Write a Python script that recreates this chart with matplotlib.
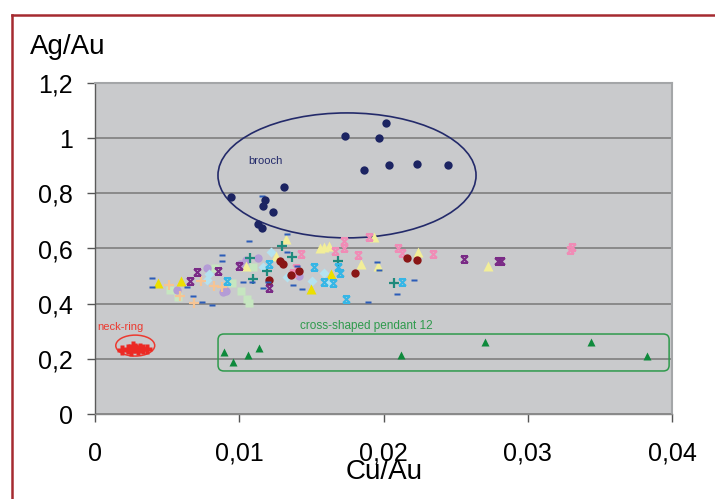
import matplotlib
matplotlib.use("Agg")
import matplotlib.pyplot as plt
from matplotlib.path import Path
from matplotlib.patches import Ellipse, FancyBboxPatch
from matplotlib.ticker import FuncFormatter
from matplotlib.lines import Line2D

plt.rcParams['font.family'] = ['Liberation Sans', 'DejaVu Sans']

# ---- data: (Cu/Au, Ag/Au) per object group ----
brooch_x = [0.02017, 0.01733, 0.01969, 0.01863, 0.02038, 0.02235, 0.02449,
            0.01313, 0.00941, 0.01179, 0.01167, 0.01232, 0.01132, 0.01160]
brooch_y = [1.054, 1.009, 1.001, 0.886, 0.901, 0.906, 0.903,
            0.824, 0.788, 0.777, 0.754, 0.733, 0.688, 0.676]

neck_x = [0.0019, 0.0023, 0.0025, 0.0026, 0.0028, 0.0030, 0.0031, 0.0033, 0.0036]
neck_y = [0.232, 0.236, 0.230, 0.245, 0.240, 0.233, 0.238, 0.235, 0.236]

pend_x = [0.00896, 0.00957, 0.01063, 0.01139, 0.02119, 0.02706, 0.03437, 0.03825]
pend_y = [0.224, 0.190, 0.214, 0.240, 0.213, 0.260, 0.260, 0.210]

dash_x = [0.00393, 0.00393, 0.00878, 0.00878, 0.00636, 0.00677, 0.00744, 0.00809,
          0.01026, 0.01068, 0.01090, 0.01156, 0.01329, 0.01329, 0.01400, 0.01199,
          0.01163, 0.01370, 0.01433, 0.01955, 0.01969, 0.02214, 0.02092, 0.01893]
dash_y = [0.492, 0.462, 0.578, 0.555, 0.462, 0.428, 0.407, 0.395,
          0.480, 0.627, 0.480, 0.790, 0.653, 0.586, 0.538, 0.480,
          0.456, 0.468, 0.453, 0.551, 0.522, 0.486, 0.435, 0.405]

ytri_x = [0.00439, 0.00596, 0.01638, 0.01500]
ytri_y = [0.474, 0.482, 0.507, 0.453]

ptri_x = [0.01047, 0.01324, 0.01560, 0.01590, 0.01622, 0.01255, 0.01844,
          0.01960, 0.01934, 0.02237, 0.02724]
ptri_y = [0.537, 0.633, 0.603, 0.607, 0.609, 0.573, 0.545,
          0.537, 0.643, 0.588, 0.538]

purx_x = [0.00709, 0.00659, 0.00851, 0.00996, 0.01206, 0.02558, 0.02796, 0.02815]
purx_y = [0.514, 0.483, 0.518, 0.536, 0.456, 0.562, 0.554, 0.554]

lav_x = [0.00774, 0.00566, 0.00885, 0.00906, 0.01047, 0.01005, 0.01132, 0.01416]
lav_y = [0.528, 0.451, 0.443, 0.447, 0.558, 0.544, 0.567, 0.500]

mint_x = [0.00832, 0.00520, 0.00575, 0.00948, 0.01012, 0.01052, 0.01070, 0.01093]
mint_y = [0.530, 0.450, 0.425, 0.474, 0.447, 0.418, 0.401, 0.534]

dia_x = [0.00790, 0.00779, 0.01220, 0.01167, 0.01588, 0.01329, 0.01506, 0.01613]
dia_y = [0.508, 0.485, 0.586, 0.534, 0.510, 0.496, 0.483, 0.479]

cyan_x = [0.00913, 0.01206, 0.01518, 0.01687, 0.01701, 0.01588, 0.01648, 0.01742, 0.02126]
cyan_y = [0.482, 0.544, 0.534, 0.534, 0.510, 0.478, 0.476, 0.416, 0.478]

peach_x = [0.00515, 0.00735, 0.00589, 0.00827, 0.00883, 0.00688]
peach_y = [0.468, 0.482, 0.428, 0.465, 0.462, 0.404]

teal_x = [0.01077, 0.01097, 0.01294, 0.01366, 0.01192, 0.01687, 0.02075]
teal_y = [0.567, 0.488, 0.610, 0.568, 0.517, 0.554, 0.474]

pink_x = [0.01728, 0.01900, 0.01428, 0.01666, 0.01726, 0.01823, 0.02103, 0.02126,
          0.01393, 0.01375, 0.02345, 0.03293, 0.03309]
pink_y = [0.628, 0.641, 0.580, 0.591, 0.603, 0.575, 0.603, 0.585,
          0.529, 0.510, 0.581, 0.595, 0.606]

dred_x = [0.01282, 0.01305, 0.01416, 0.01361, 0.01204, 0.01802, 0.02161, 0.02234]
dred_y = [0.556, 0.543, 0.517, 0.504, 0.486, 0.512, 0.565, 0.558]

x_ticks = [0, 0.01, 0.02, 0.03, 0.04]
y_ticks = [0, 0.2, 0.4, 0.6, 0.8, 1.0, 1.2]

# ---- custom marker shapes ----
star_marker = Path([(-1, 1), (1, -1), (-1, -1), (1, 1), (-1, 1), (1, 1), (-1, -1), (1, -1)],
                   [Path.MOVETO, Path.LINETO] * 4)
dash_marker = Path([(-1, -0.4), (1, -0.4), (1, 0.4), (-1, 0.4), (-1, -0.4)],
                   [Path.MOVETO, Path.LINETO, Path.LINETO, Path.LINETO, Path.CLOSEPOLY])

fig = plt.figure(figsize=(7.15, 4.99), dpi=100)
ax = fig.add_axes([95 / 715, 85 / 499, 577 / 715, 331 / 499])
ax.set_facecolor('#c9cacc')
ax.set_xlim(0, 0.04)
ax.set_ylim(0, 1.2)

ax.yaxis.grid(True, color='#7f7f7f', lw=1.2)
ax.set_axisbelow(True)

def sc(x, y, **kw):
    ax.plot(x, y, ls='none', zorder=4, **kw)

sc(mint_x, mint_y, marker='s', ms=5.5, color='#c6e6c0', mec='none')
sc(lav_x, lav_y, marker='o', ms=6, color='#b49cd6', mec='none')
sc(dia_x, dia_y, marker='D', ms=5, color='#b4e2f0', mec='none')
sc(peach_x, peach_y, marker='+', ms=7, color='#f6c494', mew=1.6)
sc(ptri_x, ptri_y, marker='^', ms=6.5, color='#f2ee98', mec='none')
sc(ytri_x, ytri_y, marker='^', ms=6.5, color='#ecdf00', mec='none')
sc(teal_x, teal_y, marker='+', ms=7, color='#1f8a7c', mew=1.6)
sc(pink_x, pink_y, marker=star_marker, ms=5, color='#f08cb6', mew=1.5, fillstyle='none')
sc(cyan_x, cyan_y, marker=star_marker, ms=5, color='#36b6e6', mew=1.5, fillstyle='none')
sc(purx_x, purx_y, marker=star_marker, ms=5, color='#7a2a86', mew=1.5, fillstyle='none')
sc(dred_x, dred_y, marker='o', ms=6, color='#8a1616', mec='none')
sc(dash_x, dash_y, marker=dash_marker, ms=5, color='#2b5cb8', mec='none')
sc(brooch_x, brooch_y, marker='o', ms=6, color='#1c2462', mec='none')
sc(neck_x, neck_y, marker='P', ms=7, color='#ec2a24', mec='none')
sc(pend_x, pend_y, marker='^', ms=6, color='#0e8a3c', mec='none')

# group outlines and labels
ax.add_patch(Ellipse((0.01747, 0.865), 0.01789, 0.453, fill=False,
                     ec='#232a6a', lw=1.2, zorder=3))
ax.text(0.01185, 0.917, 'brooch', color='#232a6a', fontsize=8, ha='center', va='center')

ax.add_patch(Ellipse((0.00279, 0.248), 0.0027, 0.076, fill=False,
                     ec='#ec3a30', lw=1.1, zorder=3))
ax.text(0.00173, 0.315, 'neck-ring', color='#ec3a30', fontsize=8, ha='center', va='center')

px_aspect = (1.2 / 331) / (0.04 / 577)
ax.add_patch(FancyBboxPatch((0.00853, 0.156), 0.0398 - 0.00853, 0.29 - 0.156,
                            boxstyle='round,pad=0,rounding_size=0.0004',
                            mutation_aspect=px_aspect, fill=False,
                            ec='#2e9a4c', lw=1.1, zorder=3))
ax.text(0.01879, 0.319, 'cross-shaped pendant 12', color='#2e9a4c', fontsize=8.5,
        ha='center', va='center')

# axes styling
for side in ('top', 'right'):
    ax.spines[side].set_color('#a4a6a8')
    ax.spines[side].set_linewidth(1.5)
ax.spines['left'].set_color('#5a5a5a')
ax.spines['bottom'].set_color('#8a8a8a')
ax.spines['left'].set_linewidth(1.0)
ax.spines['bottom'].set_linewidth(1.0)

comma = FuncFormatter(lambda v, p: ('%g' % round(v, 4)).replace('.', ','))
ax.set_xticks(x_ticks)
ax.set_yticks(y_ticks)
ax.xaxis.set_major_formatter(comma)
ax.yaxis.set_major_formatter(comma)
ax.tick_params(axis='both', direction='out', length=6, width=1, color='#555555',
               labelsize=18)
ax.tick_params(axis='x', pad=14)
ax.tick_params(axis='y', pad=10)

fig.text(30 / 715, 1 - 47 / 499, 'Ag/Au', fontsize=20, ha='left', va='center')
fig.text(384 / 715, 1 - 472 / 499, 'Cu/Au', fontsize=20, ha='center', va='center')

# outer frame
fig.add_artist(Line2D([12 / 715, 1], [1 - 15 / 499, 1 - 15 / 499], color='#a52a30', lw=1.8))
fig.add_artist(Line2D([12 / 715, 12 / 715], [0, 1 - 15 / 499], color='#a52a30', lw=1.8))

fig.savefig('out.png', dpi=100)
